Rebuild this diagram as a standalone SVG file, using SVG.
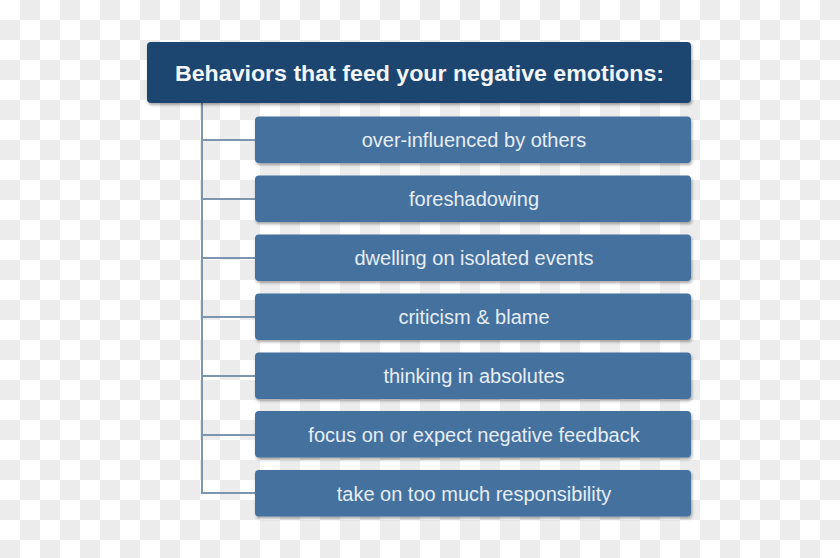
<svg xmlns="http://www.w3.org/2000/svg" width="840" height="558" viewBox="0 0 840 558">
<defs>
<pattern id="checker" width="40" height="40" patternUnits="userSpaceOnUse">
<rect width="40" height="40" fill="#ffffff"/>
<rect x="20" y="0" width="20" height="20" fill="#ececec"/>
<rect x="0" y="20" width="20" height="20" fill="#ececec"/>
</pattern>
<filter id="sh" x="-5%" y="-20%" width="110%" height="140%">
<feGaussianBlur in="SourceAlpha" stdDeviation="1.5"/>
<feOffset dx="1" dy="2" result="b"/>
<feComponentTransfer><feFuncA type="linear" slope="0.35"/></feComponentTransfer>
<feMerge><feMergeNode/><feMergeNode in="SourceGraphic"/></feMerge>
</filter>
</defs>
<style>
.hdr{fill:#1e4470;}
.box{fill:#44719f;}
.ht{font-family:"Liberation Sans",Arial,sans-serif;font-weight:bold;font-size:21.5px;fill:#f2f5f9;text-anchor:middle;}
.bt{font-family:"Liberation Sans",Arial,sans-serif;font-size:20px;fill:#e6edf5;text-anchor:middle;}
.ln{stroke:#7e95b0;stroke-width:2;fill:none;}
</style>
<rect width="840" height="558" fill="url(#checker)"/>
<g id="connectors">
<path class="ln" d="M202 103 V493 H256"/>
<path class="ln" d="M202 140 H256 M202 199 H256 M202 258 H256 M202 317 H256 M202 376 H256 M202 435 H256"/>
</g>
<g id="header">
<rect class="hdr" x="147" y="42" width="544" height="61" rx="4" filter="url(#sh)"/>
<text class="ht" x="419.5" y="80.5" textLength="489" lengthAdjust="spacingAndGlyphs">Behaviors that feed your negative emotions:</text>
</g>
<g id="n1"><rect class="box" x="255" y="116.5" width="436" height="46.5" rx="4" filter="url(#sh)"/><text class="bt" x="474" y="147">over-influenced by others</text></g>
<g id="n2"><rect class="box" x="255" y="175.5" width="436" height="46.5" rx="4" filter="url(#sh)"/><text class="bt" x="474" y="206">foreshadowing</text></g>
<g id="n3"><rect class="box" x="255" y="234.5" width="436" height="46.5" rx="4" filter="url(#sh)"/><text class="bt" x="474" y="265">dwelling on isolated events</text></g>
<g id="n4"><rect class="box" x="255" y="293.5" width="436" height="46.5" rx="4" filter="url(#sh)"/><text class="bt" x="474" y="324">criticism &amp; blame</text></g>
<g id="n5"><rect class="box" x="255" y="352.5" width="436" height="46.5" rx="4" filter="url(#sh)"/><text class="bt" x="474" y="383">thinking in absolutes</text></g>
<g id="n6"><rect class="box" x="255" y="411" width="436" height="46.5" rx="4" filter="url(#sh)"/><text class="bt" x="474" y="442">focus on or expect negative feedback</text></g>
<g id="n7"><rect class="box" x="255" y="470" width="436" height="46.5" rx="4" filter="url(#sh)"/><text class="bt" x="474" y="501">take on too much responsibility</text></g>
</svg>
